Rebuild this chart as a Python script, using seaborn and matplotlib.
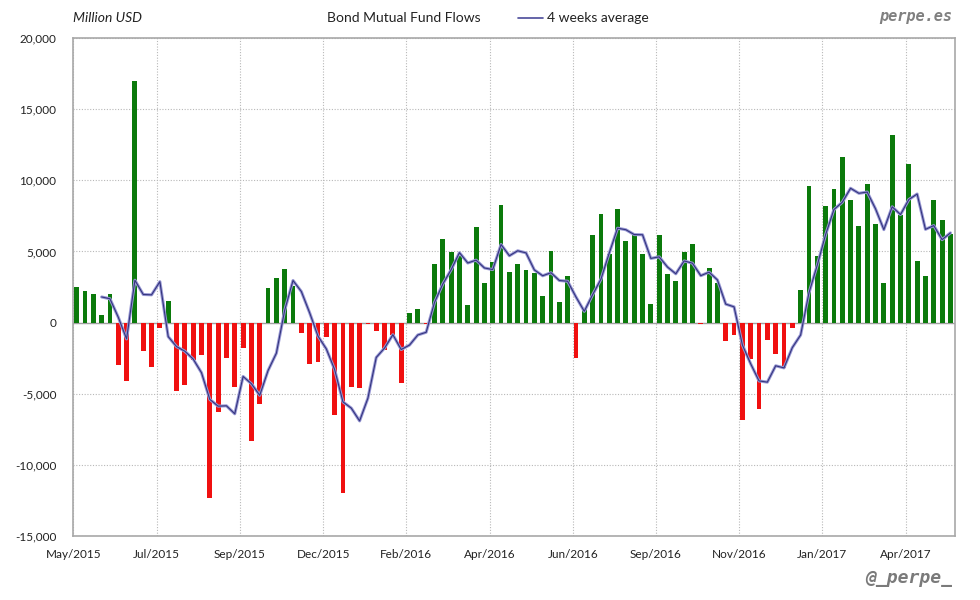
import numpy as np
import pandas as pd
import matplotlib
matplotlib.use("Agg")
import matplotlib.pyplot as plt
from matplotlib.lines import Line2D
from matplotlib.ticker import FuncFormatter
import seaborn as sns

# Weekly bond mutual fund flows, million USD (May 2015 -> May 2017)
flows = [
    2500, 2200, 2000, 500, 2000, -3000, -4100, 17000, -2000, -3100,
    -400, 1550, -4800, -4400, -2600, -2300, -12300, -6300, -2500, -4550,
    -1800, -8350, -5750, 2400, 3100, 3730, 2600, -700, -2900, -2800,
    -1000, -6500, -12000, -4550, -4600, -100, -560, -1900, -850, -4270,
    700, 940, -100, 4100, 5900, 4950, 4700, 1200, 6700, 2750,
    4250, 8240, 3540, 4150, 3660, 3450, 1900, 5000, 1480, 3240,
    -2510, 960, 6130, 7600, 4840, 7960, 5700, 6240, 4790, 1310,
    6130, 3380, 2890, 4930, 5490, -120, 3870, 2750, -1310, -890,
    -6830, -2580, -6100, -1240, -2230, -3170, -400, 2320, 9580, 4650,
    8170, 9370, 11620, 8590, 6760, 9720, 6900, 2750, 13170, 7540,
    11130, 4300, 3240, 8590, 7180, 6200,
]
first_week = "2015-05-06"
tick_labels = [
    "May/2015", "Jul/2015", "Sep/2015", "Dec/2015", "Feb/2016", "Apr/2016",
    "Jun/2016", "Sep/2016", "Nov/2016", "Jan/2017", "Apr/2017",
]
y_ticks = [-15000, -10000, -5000, 0, 5000, 10000, 15000, 20000]

GREEN = "#0b7a0b"
RED = "#f01010"

weeks = pd.date_range(first_week, periods=len(flows), freq="7D")
df = pd.DataFrame({"week": weeks.strftime("%Y-%m-%d"), "flow": flows})
df["sign"] = np.where(df["flow"] >= 0, "in", "out")
df["pos"] = np.arange(len(df))
# the chart's line is the rolling 4 week mean of the bars
df["avg"] = df["flow"].rolling(4).mean()

sns.set_style("white")
plt.rcParams["font.family"] = ["Lato", "DejaVu Sans"]

fig = plt.figure(figsize=(9.8, 6), dpi=100)
ax = fig.add_axes([73 / 980, 1 - 536 / 600, (955 - 73) / 980, (536 - 38) / 600])

sns.barplot(data=df, x="week", y="flow", hue="sign",
            palette={"in": GREEN, "out": RED}, dodge=False, width=0.58,
            saturation=1, legend=False, linewidth=0, ax=ax, zorder=2)

line = df.dropna()
ax.plot(line["pos"], line["avg"], color="#9898d4", lw=2.2, zorder=3,
        solid_joinstyle="round")
ax.plot(line["pos"], line["avg"], color="#34347e", lw=0.8, zorder=4,
        solid_joinstyle="round")

ax.set_xlim(-0.44, len(flows) - 0.45)
ax.set_ylim(-15000, 20000)
ax.set_xticks([-0.38 + 10 * k for k in range(len(tick_labels))])
ax.set_xticklabels(tick_labels)
ax.set_yticks(y_ticks)
ax.yaxis.set_major_formatter(FuncFormatter(lambda v, p: f"{v:,.0f}"))
ax.set_xlabel("")
ax.set_ylabel("")
ax.tick_params(length=0, labelsize=8.5, colors="#222222")
ax.tick_params(axis="x", pad=9)
ax.tick_params(axis="y", pad=12)
ax.grid(True, color="#b8b8b8", linestyle=(0, (1, 1.5)), lw=0.8, zorder=0)
ax.set_axisbelow(True)
for s in ax.spines.values():
    s.set_color("#a8a8a8")
    s.set_linewidth(1.2)
ax.axhline(0, color="#a0a0a0", lw=1.0, zorder=1)

# header
fig.text(73 / 980, 1 - 18 / 600, "Million USD", fontsize=10, style="italic",
         color="#222222", va="center")
fig.text(327 / 980, 1 - 18 / 600, "Bond Mutual Fund Flows", fontsize=10,
         color="#222222", va="center")
fig.add_artist(Line2D([518 / 980, 543 / 980], [1 - 18 / 600, 1 - 18 / 600],
                      color="#4a4a9a", lw=1.2))
fig.text(547 / 980, 1 - 18 / 600, "4 weeks average", fontsize=10,
         color="#222222", va="center")
fig.text(952 / 980, 1 - 17 / 600, "perpe.es", fontsize=11, ha="right",
         va="center", color="#808080", weight="bold", style="italic",
         family="DejaVu Sans Mono")
fig.text(952 / 980, 1 - 578 / 600, "@_perpe_", fontsize=13, ha="right",
         va="center", color="#7a7a7a", weight="bold", style="italic",
         family="DejaVu Sans Mono")

fig.savefig("out.png", dpi=100, facecolor="white")
